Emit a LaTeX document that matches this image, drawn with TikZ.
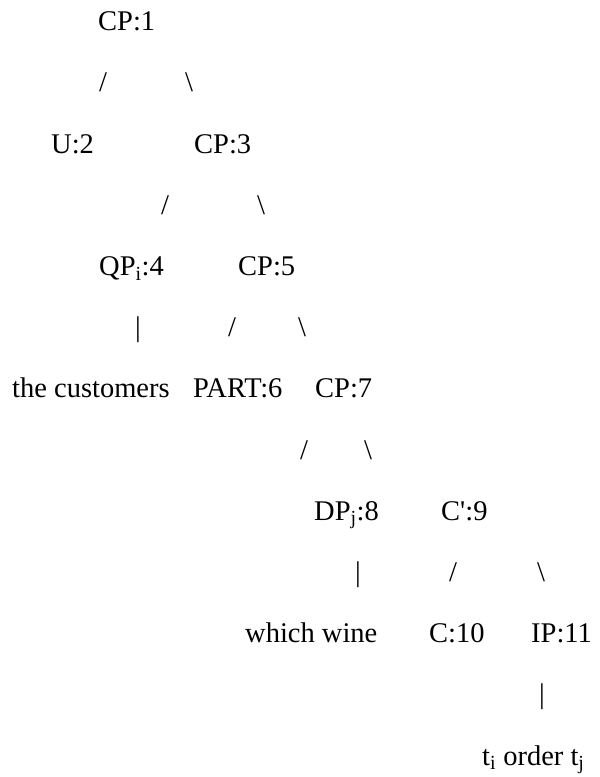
\documentclass[tikz,border=0pt]{standalone}
\usepackage{fontspec}
\setmainfont{Liberation Serif}
\begin{document}
\begin{tikzpicture}[x=1pt,y=1pt,
  lbl/.style={anchor=base west,inner sep=0pt,font=\fontsize{28.5}{32}\selectfont},
  br/.style={lbl}]
\useasboundingbox (0,0) rectangle (600,777);
% row baselines (from top): 30.7 + (k-1)*61.2
\def\r#1{777-30.7-(#1-1)*61.2}
\node[lbl] (n1) at (98,{\r{1}}) {CP:1};
\node[br] (e12) at (99,{\r{2}}) {/};
\node[br] (e13) at (185,{\r{2}}) {\textbackslash};
\node[lbl] (n2) at (51,{\r{3}}) {U:2};
\node[lbl] (n3) at (194,{\r{3}}) {CP:3};
\node[br] (e34) at (161,{\r{4}}) {/};
\node[br] (e35) at (257,{\r{4}}) {\textbackslash};
\node[lbl] (n4) at (99,{\r{5}}) {QP\textsubscript{i}:4};
\node[lbl] (n5) at (238,{\r{5}}) {CP:5};
\node[br] (e4t) at (135,{\r{6}}) {|};
\node[br] (e56) at (228,{\r{6}}) {/};
\node[br] (e57) at (298,{\r{6}}) {\textbackslash};
\node[lbl] (t1) at (12,{\r{7}}) {the customers};
\node[lbl] (n6) at (193,{\r{7}}) {PART:6};
\node[lbl] (n7) at (315,{\r{7}}) {CP:7};
\node[br] (e78) at (300,{\r{8}}) {/};
\node[br] (e79) at (364,{\r{8}}) {\textbackslash};
\node[lbl] (n8) at (314,{\r{9}}) {DP\textsubscript{j}:8};
\node[lbl] (n9) at (441,{\r{9}}) {C\textquotesingle:9};
\node[br] (e8t) at (355,{\r{10}}) {|};
\node[br] (e910) at (449,{\r{10}}) {/};
\node[br] (e911) at (537,{\r{10}}) {\textbackslash};
\node[lbl] (t2) at (245,{\r{11}}) {which wine};
\node[lbl] (n10) at (429,{\r{11}}) {C:10};
\node[lbl] (n11) at (531,{\r{11}}) {IP:11};
\node[br] (e11t) at (539,{\r{12}}) {|};
\node[lbl] (t3) at (482,{\r{13}}) {t\textsubscript{i} order t\textsubscript{j}};
\end{tikzpicture}
\end{document}
